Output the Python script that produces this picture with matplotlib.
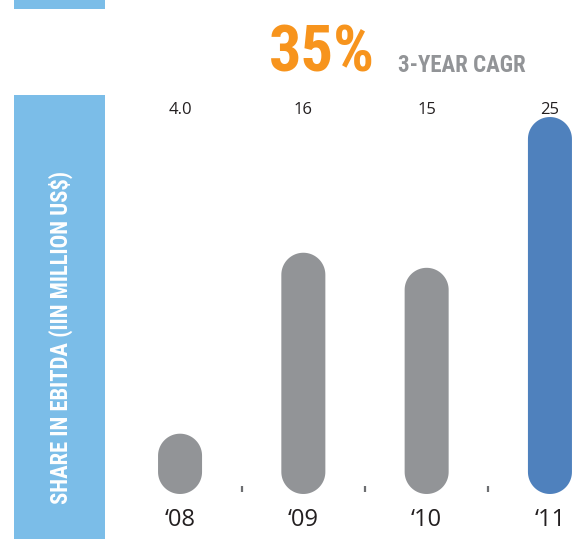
import matplotlib
matplotlib.use("Agg")
import numpy as np
import matplotlib.pyplot as plt
from matplotlib.patches import Rectangle, Polygon

# EBITDA share per year, in million US$
years = ["\u201808", "\u201809", "\u201810", "\u201811"]
values = [4.0, 16, 15, 25]
value_labels = ["4.0", "16", "15", "25"]
cagr_text = "35%"

GRAY = "#929497"
BLUE = "#4F81BD"
LIGHT_BLUE = "#7BBDE8"
ORANGE = "#F7941D"
TEXT = "#231F20"

# narrowest bold face that is installed
HEAD = dict(family=["Noto Sans Condensed", "Roboto Condensed",
                    "Liberation Sans Narrow", "Roboto"],
            fontweight="bold")

W, H = 582, 539
fig = plt.figure(figsize=(W / 100, H / 100), dpi=100)
renderer = fig.canvas.get_renderer()


def fit(t, size_px, vertical=False):
    # scale the font so the text spans size_px along its reading direction
    bb = t.get_window_extent(renderer)
    span = bb.height if vertical else bb.width
    t.set_fontsize(t.get_fontsize() * size_px / span)


# decorative bands on the left
fig.add_artist(Rectangle((14 / W, 0), 91 / W, (539 - 95) / H,
                         transform=fig.transFigure, color=LIGHT_BLUE, lw=0))
fig.add_artist(Rectangle((14 / W, 1 - 9 / H), 91 / W, 9 / H,
                         transform=fig.transFigure, color=LIGHT_BLUE, lw=0))

ylab = fig.text(61 / W, 1 - 338 / H, "SHARE IN EBITDA (IIN MILLION US$)",
                rotation=90, color="white", fontsize=14, ha="center",
                va="center", **HEAD)
fit(ylab, 335, vertical=True)

big = fig.text(375 / W, 1 - 72 / H, cagr_text, color=ORANGE, fontsize=40,
               ha="right", va="baseline", **HEAD)
fit(big, 106)
sub = fig.text(398 / W, 1 - 72 / H, "3-YEAR CAGR", color=GRAY, fontsize=15,
               ha="left", va="baseline", **HEAD)
fit(sub, 128)

# plotting area in pixels: x 120..582, y 95..494
ax = fig.add_axes([120 / W, 1 - 494 / H, 462 / W, (494 - 95) / H])
x = list(range(len(values)))
ax.set_xlim(-0.487, 3.26)
ax.set_ylim(0, 26.46)
ax.axis("off")

# aspect between y and x data units on screen, for round bar caps
fig.canvas.draw()
(x0, y0), (x1, y1) = ax.transData.transform([(0, 0), (1, 1)])
aspect = (x1 - x0) / (y1 - y0)

bar_w = 0.357
rx = bar_w / 2
ry = rx * aspect
theta = np.linspace(0, np.pi, 40)
for i, v in enumerate(values):
    color = BLUE if i == len(values) - 1 else GRAY
    # pill shape: semicircle on top, semicircle at the base
    top = np.column_stack([x[i] + rx * np.cos(theta), v - ry + ry * np.sin(theta)])
    bot = np.column_stack([x[i] - rx * np.cos(theta), ry - ry * np.sin(theta)])
    ax.add_patch(Polygon(np.vstack([top, bot]), closed=True, fc=color, ec="none"))
    ax.text(x[i], 25.46, value_labels[i], ha="center", va="center",
            fontsize=12, family="Open Sans", color=TEXT)
    ax.text(x[i], -1.75, years[i], ha="center", va="center",
            fontsize=17, family="Open Sans", color=TEXT, clip_on=False)

# small separators between the years
mids = [(a + b) / 2 for a, b in zip(x[:-1], x[1:])]
ax.vlines(mids, 0.15, 0.5, color="#6D6E71", lw=1.6)

fig.savefig("out.png", dpi=100)
